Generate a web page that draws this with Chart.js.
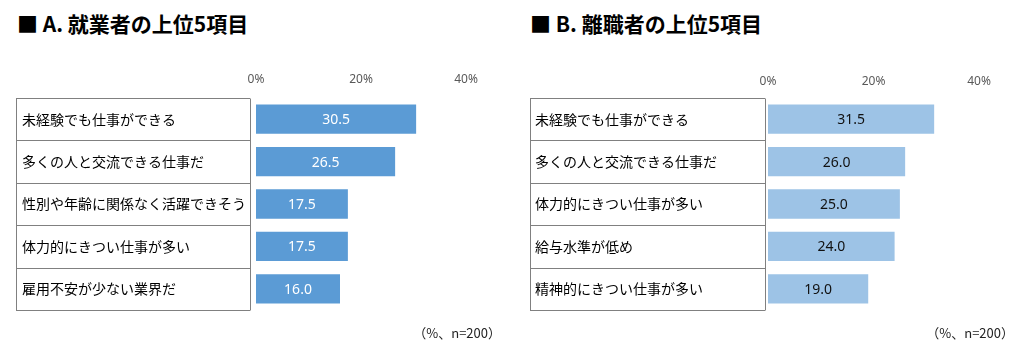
<!DOCTYPE html>
<html>
<head>
<meta charset="utf-8">
<script src="https://cdn.jsdelivr.net/npm/chart.js@4"></script>
<style>
    body { margin: 0; background: #fff; width: 1017px; height: 354px; overflow: hidden; position: relative; font-family: "Noto Sans CJK JP", sans-serif; }
    .title { position: absolute; top: 8px; font-size: 21px; font-weight: bold; color: #000; white-space: nowrap; }
    .note { position: absolute; top: 323px; font-size: 13px; color: #222; white-space: nowrap; }
    .box { position: absolute; top: 0; height: 354px; }
</style>
</head>
<body>
<div class="title" style="left:17px">■ A. 就業者の上位5項目</div>
<div class="title" style="left:530px">■ B. 離職者の上位5項目</div>
<div class="box" style="left:0;width:510px"><canvas id="chartA"></canvas></div>
<div class="box" style="left:510px;width:507px"><canvas id="chartB"></canvas></div>
<div class="note" style="right:516px">（%、n=200）</div>
<div class="note" style="right:3px">（%、n=200）</div>
<script>
const labelsA = ['未経験でも仕事ができる', '多くの人と交流できる仕事だ', '性別や年齢に関係なく活躍できそう', '体力的にきつい仕事が多い', '雇用不安が少ない業界だ'];
const valuesA = [30.5, 26.5, 17.5, 17.5, 16.0];

const labelsB = ['未経験でも仕事ができる', '多くの人と交流できる仕事だ', '体力的にきつい仕事が多い', '給与水準が低め', '精神的にきつい仕事が多い'];
const valuesB = [31.5, 26.0, 25.0, 24.0, 19.0];

const axisMin = 0;
const axisMax = 40;
const axisStep = 20;

// bordered label table drawn on the y axis area
const tablePlugin = {
    id: 'labelTable',
    afterDraw(chart, args, opts) {
        const ctx = chart.ctx;
        const y = chart.scales.y;
        const n = chart.data.labels.length;
        const x0 = y.left - opts.insetLeft;
        const x1 = chart.chartArea.left - opts.gapRight;
        ctx.save();
        ctx.strokeStyle = '#808080';
        ctx.lineWidth = 1;
        ctx.beginPath();
        for (let i = 0; i <= n; i++) {
            const py = Math.round(y.getPixelForValue(i - 0.5)) + 0.5;
            ctx.moveTo(x0, py);
            ctx.lineTo(x1, py);
        }
        const top = Math.round(y.getPixelForValue(-0.5)) + 0.5;
        const bottom = Math.round(y.getPixelForValue(n - 0.5)) + 0.5;
        ctx.moveTo(Math.round(x0) + 0.5, top);
        ctx.lineTo(Math.round(x0) + 0.5, bottom);
        ctx.moveTo(Math.round(x1) + 0.5, top);
        ctx.lineTo(Math.round(x1) + 0.5, bottom);
        ctx.stroke();
        ctx.restore();
    }
};

// value written in the middle of each bar
const valuePlugin = {
    id: 'barValues',
    afterDatasetsDraw(chart, args, opts) {
        const ctx = chart.ctx;
        const meta = chart.getDatasetMeta(0);
        const data = chart.data.datasets[0].data;
        ctx.save();
        ctx.font = '14px "Noto Sans", sans-serif';
        ctx.fillStyle = opts.color;
        ctx.textAlign = 'center';
        ctx.textBaseline = 'middle';
        meta.data.forEach((bar, i) => {
            ctx.fillText(data[i].toFixed(1), (bar.x + bar.base) / 2, bar.y + 1);
        });
        ctx.restore();
    }
};

function makeChart(id, labels, values, look) {
    return new Chart(document.getElementById(id), {
        type: 'bar',
        data: {
            labels: labels,
            datasets: [{
                data: values,
                backgroundColor: look.barColor,
                barPercentage: 0.69,
                categoryPercentage: 1.0
            }]
        },
        options: {
            indexAxis: 'y',
            responsive: true,
            maintainAspectRatio: false,
            animation: false,
            layout: {
                padding: { left: look.padLeft, right: look.padRight, top: 68, bottom: 44 }
            },
            plugins: {
                legend: { display: false },
                tooltip: { enabled: false },
                labelTable: { insetLeft: look.insetLeft, gapRight: look.gapRight },
                barValues: { color: look.valueColor }
            },
            scales: {
                x: {
                    position: 'top',
                    min: axisMin,
                    max: axisMax,
                    grid: { display: false, drawTicks: false },
                    border: { display: false },
                    ticks: {
                        stepSize: axisStep,
                        padding: look.tickPad,
                        color: '#595959',
                        font: { family: '"Noto Sans", sans-serif', size: 12 },
                        callback: (v) => v + '%'
                    },
                    afterFit: (scale) => { scale.height = 30; }
                },
                y: {
                    grid: { display: false, drawTicks: false },
                    border: { display: false },
                    ticks: {
                        crossAlign: 'far',
                        padding: 0,
                        color: '#000',
                        font: { family: '"Noto Sans CJK JP", sans-serif', size: 14 }
                    },
                    afterFit: (scale) => { scale.width = look.axisWidth; }
                }
            }
        },
        plugins: [tablePlugin, valuePlugin]
    });
}

makeChart('chartA', labelsA, valuesA, {
    barColor: '#5B9BD5', valueColor: '#ffffff',
    padLeft: 22, padRight: 44, axisWidth: 234,
    insetLeft: 6, gapRight: 6, tickPad: 11
});

makeChart('chartB', labelsB, valuesB, {
    barColor: '#9DC3E6', valueColor: '#111111',
    padLeft: 25, padRight: 38, axisWidth: 233,
    insetLeft: 5, gapRight: 3, tickPad: 9
});
</script>
</body>
</html>
